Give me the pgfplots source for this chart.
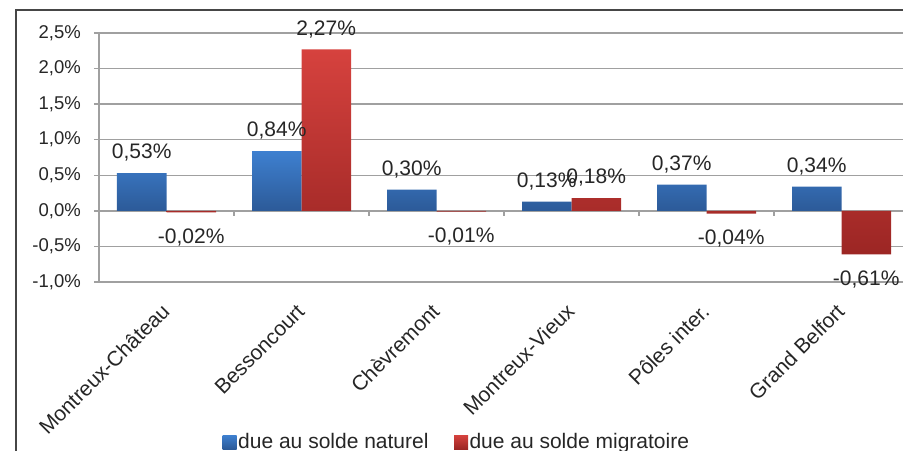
\documentclass[border=0pt]{standalone}
\usepackage{fontspec}
\setmainfont{Liberation Sans}
\usepackage{pgfplots}
\pgfplotsset{compat=1.18}
\definecolor{bluetop}{RGB}{62,128,208}
\definecolor{bluebot}{RGB}{44,90,152}
\definecolor{redtop}{RGB}{214,66,62}
\definecolor{redbot}{RGB}{156,38,36}
\definecolor{gridgray}{RGB}{160,160,160}
\definecolor{framegray}{RGB}{70,70,70}
\definecolor{txt}{RGB}{38,38,38}
\begin{document}
\begin{tikzpicture}
\begin{scope}
\clip (0bp,0bp) rectangle (903bp,451bp);
\draw[framegray, line width=1.3bp] (16bp,-20bp) -- (16bp,441bp) -- (940bp,441bp);
\begin{axis}[
  at={(99bp,169bp)}, anchor=south west,
  scale only axis, width=810bp, height=249bp,
  ybar=0pt, bar width=49.5bp,
  xmin=-0.5, xmax=5.5, ymin=-1, ymax=2.5,
  axis lines*=left,
  axis line style={-, gridgray, line width=1.3bp},
  ymajorgrids, grid style={gridgray, line width=1.3bp},
  tick align=outside, major tick length=5bp,
  ytick={-1,-0.5,0,0.5,1,1.5,2,2.5},
  yticklabels={{-1,0\%},{-0,5\%},{0,0\%},{0,5\%},{1,0\%},{1,5\%},{2,0\%},{2,5\%}},
  ytick style={gridgray, line width=1.3bp},
  yticklabel style={font=\fontsize{18.5bp}{22bp}\selectfont, text=txt, inner sep=0pt, xshift=-13bp},
  xtick={0,1,2,3,4,5},
  xticklabels={Montreux-Château,Bessoncourt,Chèvremont,Montreux-Vieux,Pôles inter.,Grand Belfort},
  xtick style={draw=none},
  xticklabel style={xshift=2.6bp, yshift=-24bp, rotate=45, anchor=mid east, font=\fontsize{21bp}{25bp}\selectfont, text=txt, inner sep=0pt},
  nodes near coords,
  point meta=explicit symbolic,
  visualization depends on={y \as \rawy},
  every node near coord/.append style={font=\fontsize{21bp}{25bp}\selectfont, text=txt, inner sep=0pt, anchor=south, yshift={(\rawy<0)*(-45.5)+11.5}},
  legend columns=2,
  legend style={at={(0.4415,-0.6426)}, anchor=center, draw=none, fill=none,
    font=\fontsize{21bp}{25bp}\selectfont, text=txt,
    nodes={inner sep=1.5bp},
    /tikz/every even column/.append style={column sep=24bp}},
]
\addplot[draw=none, top color=bluetop, bottom color=bluebot,
  legend image code/.code={\shade[top color=bluetop, bottom color=bluebot] (0bp,-7bp) rectangle (14bp,7bp);}]
  coordinates {(0,0.53) [0,53\%] (1,0.84) [0,84\%] (2,0.30) [0,30\%] (3,0.13) [0,13\%] (4,0.37) [0,37\%] (5,0.34) [0,34\%]};
\addplot[draw=none, top color=redtop, bottom color=redbot,
  legend image code/.code={\shade[top color=redtop, bottom color=redbot] (0bp,-7bp) rectangle (14bp,7bp);}]
  coordinates {(0,-0.02) [-0,02\%] (1,2.27) [2,27\%] (2,-0.01) [-0,01\%] (3,0.18) [0,18\%] (4,-0.04) [-0,04\%] (5,-0.61) [-0,61\%]};
\legend{due au solde naturel, due au solde migratoire}
\pgfplotsinvokeforeach{0.5,1.5,2.5,3.5,4.5}{\draw[gridgray, line width=1.3bp] (axis cs:#1,0) -- ++(0bp,-5bp);}
\end{axis}
\end{scope}
\pgfresetboundingbox
\useasboundingbox (0bp,0bp) rectangle (903bp,451bp);
\end{tikzpicture}
\end{document}
